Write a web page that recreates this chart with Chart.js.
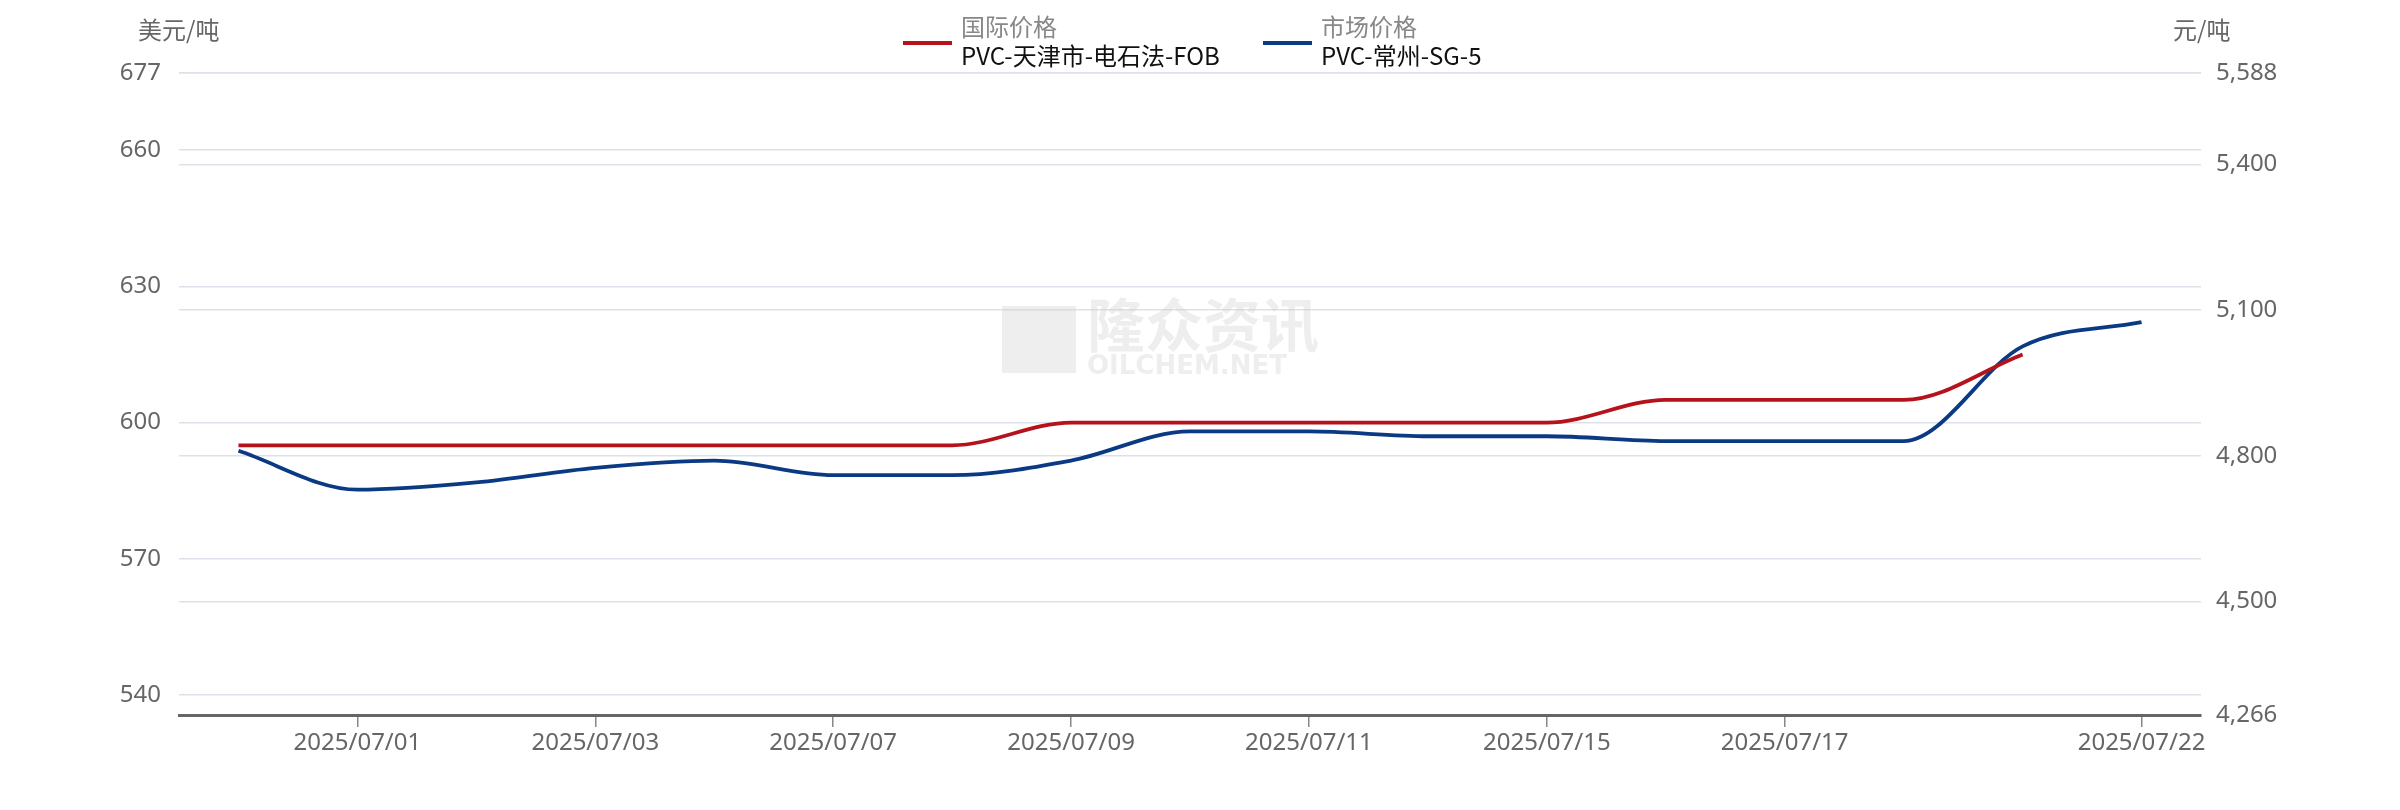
<!DOCTYPE html>
<html>
<head>
<meta charset="utf-8">
<script src="https://cdn.jsdelivr.net/npm/chart.js@4"></script>
<style>
  html, body { margin: 0; padding: 0; background: #fff; overflow: hidden; }
  #wrap { position: relative; width: 2400px; height: 810px; font-family: "Noto Sans CJK SC", "Noto Sans", sans-serif; }
  #myChart { position: absolute; left: 0; top: 0; }
  .unit { position: absolute; top: 11px; font-size: 24px; color: #666; }
  .leg { position: absolute; top: 11px; font-size: 24px; line-height: 29px; }
  .leg .cat { color: #888; }
  .leg .name { color: #111; }
  .leg .mark { position: absolute; left: -58px; top: 30px; width: 49px; height: 4px; }
</style>
</head>
<body>
<div id="wrap">
  <canvas id="myChart" width="2400" height="810"></canvas>
  <div class="unit" style="left:138px">美元/吨</div>
  <div class="unit" style="left:2173px">元/吨</div>
  <div class="leg" style="left:961px"><div class="mark" style="background:#b5121b"></div><div class="cat">国际价格</div><div class="name">PVC-天津市-电石法-FOB</div></div>
  <div class="leg" style="left:1321px"><div class="mark" style="background:#0b3a84"></div><div class="cat">市场价格</div><div class="name">PVC-常州-SG-5</div></div>
</div>
<script>
const dates = ["2025/06/30", "2025/07/01", "2025/07/02", "2025/07/03", "2025/07/04", "2025/07/07", "2025/07/08", "2025/07/09",
  "2025/07/10", "2025/07/11", "2025/07/14", "2025/07/15", "2025/07/16", "2025/07/17", "2025/07/18", "2025/07/21", "2025/07/22"];
const fobPrice = [595, 595, 595, 595, 595, 595, 595, 600, 600, 600, 600, 600, 605, 605, 605, 615, null];
const changzhouPrice = [4810, 4730, 4745, 4775, 4790, 4760, 4760, 4790, 4850, 4850, 4840, 4840, 4830, 4830, 4830, 5025, 5075];
const leftTicks = [540, 570, 600, 630, 660, 677];
const rightTicks = [4266, 4500, 4800, 5100, 5400, 5588];

const shown = (i) => (i % 2 === 1 || i === dates.length - 1) && i !== dates.length - 2;

const watermark = {
  id: "watermark",
  beforeDatasetsDraw(chart) {
    const c = chart.ctx;
    c.save();
    c.fillStyle = "rgba(200,200,200,0.3)";
    c.fillRect(1002, 306, 74, 67);
    c.font = "bold 58px 'Noto Sans CJK SC'";
    c.textBaseline = "middle";
    c.fillText("隆众资讯", 1087, 325);
    c.font = "bold 26px 'DejaVu Sans'";
    c.fillText("OILCHEM.NET", 1087, 367);
    c.restore();
  }
};

new Chart(document.getElementById("myChart"), {
  type: "line",
  data: {
    labels: dates,
    datasets: [
      { label: "PVC-天津市-电石法-FOB", data: fobPrice, yAxisID: "y", borderColor: "#b5121b", borderWidth: 3.8, pointRadius: 0, cubicInterpolationMode: "monotone" },
      { label: "PVC-常州-SG-5", data: changzhouPrice, yAxisID: "y1", borderColor: "#0b3a84", borderWidth: 3.8, pointRadius: 0, cubicInterpolationMode: "monotone" }
    ]
  },
  options: {
    responsive: false,
    animation: false,
    devicePixelRatio: 1,
    layout: { padding: { top: 73, left: 0, right: 0, bottom: 0 } },
    plugins: { legend: { display: false }, tooltip: { enabled: false } },
    scales: {
      x: {
        offset: true,
        grid: {
          offset: false, drawOnChartArea: false, tickLength: 12, lineWidth: 1.5,
          color: (ctx) => shown(ctx.index) ? "#888" : "rgba(0,0,0,0)"
        },
        border: { color: "#666", width: 3 },
        ticks: {
          autoSkip: false, maxRotation: 0, color: "#666", font: { size: 24, family: "Noto Sans" }, padding: 2,
          callback: (v, i) => shown(i) ? dates[i] : ""
        },
        afterFit: (s) => { s.height = 95; }
      },
      y: {
        position: "left", min: 535.6, max: 677,
        afterBuildTicks: (s) => { s.ticks = leftTicks.map(v => ({ value: v })); },
        grid: { color: "#dde1ea", lineWidth: 1.5, drawTicks: false },
        border: { display: false },
        ticks: { color: "#666", font: { size: 24, family: "Noto Sans" }, padding: 18 },
        afterFit: (s) => { s.width = 179; }
      },
      y1: {
        position: "right", min: 4266, max: 5588,
        afterBuildTicks: (s) => { s.ticks = rightTicks.map(v => ({ value: v })); },
        grid: { color: "#dde1ea", lineWidth: 1.5, drawTicks: false },
        border: { display: false },
        ticks: { color: "#666", font: { size: 24, family: "Noto Sans" }, padding: 15, callback: (v) => v.toLocaleString("en-US") },
        afterFit: (s) => { s.width = 199; }
      }
    }
  },
  plugins: [watermark]
});
</script>
</body>
</html>
